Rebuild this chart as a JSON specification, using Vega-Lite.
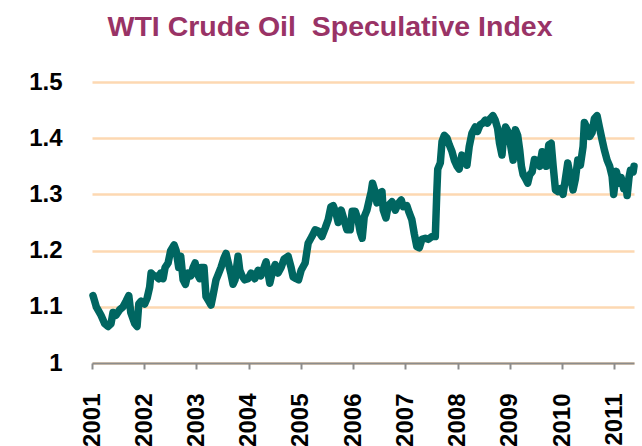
{
  "$schema": "https://vega.github.io/schema/vega-lite/v6.json",
  "width": 542,
  "height": 281,
  "autosize": {"type": "none"},
  "padding": {"left": 92, "top": 82, "right": 8, "bottom": 83},
  "background": "white",
  "title": {
    "text": "WTI Crude Oil\u00a0 Speculative Index",
    "font": "Liberation Sans",
    "fontSize": 28.5,
    "fontWeight": "bold",
    "color": "#993366",
    "anchor": "middle",
    "frame": "group",
    "dx": -33,
    "baseline": "alphabetic",
    "offset": 6
  },
  "config": {
    "view": {"stroke": null},
    "axis": {"labelFont": "Liberation Sans", "labelFontWeight": "bold", "labelColor": "#000000", "labelFontSize": 24}
  },
  "data": {
    "values": [
      {"date": "2001-01-08", "index": 1.12},
      {"date": "2001-01-31", "index": 1.10},
      {"date": "2001-03-05", "index": 1.085},
      {"date": "2001-03-31", "index": 1.07},
      {"date": "2001-04-23", "index": 1.065},
      {"date": "2001-05-14", "index": 1.07},
      {"date": "2001-05-28", "index": 1.09},
      {"date": "2001-06-18", "index": 1.085},
      {"date": "2001-07-14", "index": 1.095},
      {"date": "2001-08-06", "index": 1.10},
      {"date": "2001-08-27", "index": 1.11},
      {"date": "2001-09-15", "index": 1.12},
      {"date": "2001-09-29", "index": 1.09},
      {"date": "2001-10-27", "index": 1.07},
      {"date": "2001-11-12", "index": 1.065},
      {"date": "2001-11-24", "index": 1.105},
      {"date": "2001-12-10", "index": 1.11},
      {"date": "2002-01-04", "index": 1.105},
      {"date": "2002-01-21", "index": 1.115},
      {"date": "2002-02-08", "index": 1.135},
      {"date": "2002-02-18", "index": 1.16},
      {"date": "2002-03-11", "index": 1.155},
      {"date": "2002-03-25", "index": 1.155},
      {"date": "2002-04-12", "index": 1.15},
      {"date": "2002-04-26", "index": 1.16},
      {"date": "2002-05-13", "index": 1.15},
      {"date": "2002-05-27", "index": 1.17},
      {"date": "2002-06-17", "index": 1.178},
      {"date": "2002-07-05", "index": 1.20},
      {"date": "2002-07-29", "index": 1.21},
      {"date": "2002-08-12", "index": 1.20},
      {"date": "2002-08-30", "index": 1.17},
      {"date": "2002-09-13", "index": 1.19},
      {"date": "2002-09-30", "index": 1.148},
      {"date": "2002-10-16", "index": 1.14},
      {"date": "2002-11-04", "index": 1.16},
      {"date": "2002-11-23", "index": 1.155},
      {"date": "2002-12-09", "index": 1.17},
      {"date": "2002-12-23", "index": 1.178},
      {"date": "2003-01-05", "index": 1.16},
      {"date": "2003-01-24", "index": 1.15},
      {"date": "2003-02-02", "index": 1.17},
      {"date": "2003-02-23", "index": 1.17},
      {"date": "2003-03-09", "index": 1.118},
      {"date": "2003-03-28", "index": 1.11},
      {"date": "2003-04-13", "index": 1.103},
      {"date": "2003-04-27", "index": 1.12},
      {"date": "2003-05-18", "index": 1.148},
      {"date": "2003-06-06", "index": 1.16},
      {"date": "2003-06-22", "index": 1.17},
      {"date": "2003-07-13", "index": 1.187},
      {"date": "2003-07-27", "index": 1.195},
      {"date": "2003-08-10", "index": 1.18},
      {"date": "2003-08-29", "index": 1.16},
      {"date": "2003-09-14", "index": 1.14},
      {"date": "2003-09-28", "index": 1.148},
      {"date": "2003-10-19", "index": 1.19},
      {"date": "2003-10-31", "index": 1.165},
      {"date": "2003-11-16", "index": 1.155},
      {"date": "2003-12-05", "index": 1.148},
      {"date": "2003-12-28", "index": 1.15},
      {"date": "2004-01-18", "index": 1.16},
      {"date": "2004-02-13", "index": 1.15},
      {"date": "2004-03-07", "index": 1.165},
      {"date": "2004-03-26", "index": 1.155},
      {"date": "2004-04-11", "index": 1.165},
      {"date": "2004-05-02", "index": 1.18},
      {"date": "2004-05-28", "index": 1.142},
      {"date": "2004-06-13", "index": 1.16},
      {"date": "2004-07-04", "index": 1.175},
      {"date": "2004-07-25", "index": 1.16},
      {"date": "2004-08-15", "index": 1.17},
      {"date": "2004-09-05", "index": 1.185},
      {"date": "2004-10-03", "index": 1.19},
      {"date": "2004-10-24", "index": 1.17},
      {"date": "2004-11-07", "index": 1.153},
      {"date": "2004-11-28", "index": 1.15},
      {"date": "2004-12-15", "index": 1.148},
      {"date": "2005-01-02", "index": 1.165},
      {"date": "2005-01-30", "index": 1.178},
      {"date": "2005-02-20", "index": 1.213},
      {"date": "2005-03-18", "index": 1.225},
      {"date": "2005-04-10", "index": 1.237},
      {"date": "2005-05-01", "index": 1.235},
      {"date": "2005-05-27", "index": 1.225},
      {"date": "2005-06-19", "index": 1.24},
      {"date": "2005-07-10", "index": 1.255},
      {"date": "2005-07-29", "index": 1.278},
      {"date": "2005-08-14", "index": 1.28},
      {"date": "2005-09-02", "index": 1.267},
      {"date": "2005-09-18", "index": 1.25},
      {"date": "2005-10-09", "index": 1.272},
      {"date": "2005-10-23", "index": 1.26},
      {"date": "2005-11-18", "index": 1.237},
      {"date": "2005-12-11", "index": 1.237},
      {"date": "2005-12-25", "index": 1.27},
      {"date": "2006-01-15", "index": 1.27},
      {"date": "2006-02-03", "index": 1.255},
      {"date": "2006-02-19", "index": 1.233},
      {"date": "2006-03-05", "index": 1.222},
      {"date": "2006-03-19", "index": 1.26},
      {"date": "2006-04-07", "index": 1.272},
      {"date": "2006-04-23", "index": 1.29},
      {"date": "2006-05-07", "index": 1.305},
      {"date": "2006-05-16", "index": 1.32},
      {"date": "2006-05-28", "index": 1.31},
      {"date": "2006-06-16", "index": 1.285},
      {"date": "2006-07-02", "index": 1.302},
      {"date": "2006-07-21", "index": 1.305},
      {"date": "2006-07-30", "index": 1.272},
      {"date": "2006-08-18", "index": 1.258},
      {"date": "2006-09-03", "index": 1.28},
      {"date": "2006-09-29", "index": 1.287},
      {"date": "2006-10-22", "index": 1.272},
      {"date": "2006-11-10", "index": 1.283},
      {"date": "2006-12-03", "index": 1.29},
      {"date": "2006-12-17", "index": 1.278},
      {"date": "2007-01-11", "index": 1.28},
      {"date": "2007-01-28", "index": 1.267},
      {"date": "2007-02-15", "index": 1.255},
      {"date": "2007-03-04", "index": 1.23},
      {"date": "2007-03-22", "index": 1.207},
      {"date": "2007-04-08", "index": 1.205},
      {"date": "2007-04-26", "index": 1.22},
      {"date": "2007-05-20", "index": 1.222},
      {"date": "2007-06-10", "index": 1.22},
      {"date": "2007-07-06", "index": 1.225},
      {"date": "2007-07-29", "index": 1.225},
      {"date": "2007-08-08", "index": 1.30},
      {"date": "2007-08-15", "index": 1.345},
      {"date": "2007-09-02", "index": 1.356},
      {"date": "2007-09-14", "index": 1.394},
      {"date": "2007-09-30", "index": 1.405},
      {"date": "2007-10-19", "index": 1.40},
      {"date": "2007-11-04", "index": 1.388},
      {"date": "2007-11-23", "index": 1.376},
      {"date": "2007-12-09", "index": 1.361},
      {"date": "2007-12-28", "index": 1.35},
      {"date": "2008-01-12", "index": 1.345},
      {"date": "2008-01-31", "index": 1.37},
      {"date": "2008-02-16", "index": 1.365},
      {"date": "2008-03-06", "index": 1.352},
      {"date": "2008-03-22", "index": 1.385},
      {"date": "2008-04-10", "index": 1.409},
      {"date": "2008-05-03", "index": 1.42},
      {"date": "2008-05-19", "index": 1.412},
      {"date": "2008-06-07", "index": 1.424},
      {"date": "2008-06-26", "index": 1.427},
      {"date": "2008-07-12", "index": 1.432},
      {"date": "2008-07-28", "index": 1.427},
      {"date": "2008-08-16", "index": 1.435},
      {"date": "2008-09-04", "index": 1.44},
      {"date": "2008-09-20", "index": 1.432},
      {"date": "2008-10-06", "index": 1.418},
      {"date": "2008-10-20", "index": 1.391},
      {"date": "2008-11-06", "index": 1.37},
      {"date": "2008-11-17", "index": 1.403},
      {"date": "2008-12-01", "index": 1.42},
      {"date": "2008-12-22", "index": 1.41},
      {"date": "2009-01-09", "index": 1.382},
      {"date": "2009-01-23", "index": 1.361},
      {"date": "2009-02-08", "index": 1.415},
      {"date": "2009-02-24", "index": 1.405},
      {"date": "2009-03-10", "index": 1.379},
      {"date": "2009-03-22", "index": 1.35},
      {"date": "2009-04-03", "index": 1.335},
      {"date": "2009-04-19", "index": 1.328},
      {"date": "2009-05-05", "index": 1.32},
      {"date": "2009-05-19", "index": 1.335},
      {"date": "2009-06-05", "index": 1.34},
      {"date": "2009-06-21", "index": 1.362},
      {"date": "2009-07-10", "index": 1.36},
      {"date": "2009-07-28", "index": 1.35},
      {"date": "2009-08-14", "index": 1.376},
      {"date": "2009-08-30", "index": 1.372},
      {"date": "2009-09-13", "index": 1.35},
      {"date": "2009-09-29", "index": 1.388},
      {"date": "2009-10-16", "index": 1.391},
      {"date": "2009-10-30", "index": 1.35},
      {"date": "2009-11-15", "index": 1.308},
      {"date": "2009-12-01", "index": 1.305},
      {"date": "2009-12-20", "index": 1.31},
      {"date": "2010-01-07", "index": 1.30},
      {"date": "2010-01-23", "index": 1.327},
      {"date": "2010-02-09", "index": 1.356},
      {"date": "2010-02-27", "index": 1.332},
      {"date": "2010-03-18", "index": 1.308},
      {"date": "2010-04-03", "index": 1.327},
      {"date": "2010-04-20", "index": 1.361},
      {"date": "2010-05-08", "index": 1.352},
      {"date": "2010-05-27", "index": 1.385},
      {"date": "2010-06-05", "index": 1.428},
      {"date": "2010-06-24", "index": 1.418},
      {"date": "2010-07-12", "index": 1.403},
      {"date": "2010-07-29", "index": 1.41},
      {"date": "2010-08-14", "index": 1.435},
      {"date": "2010-09-02", "index": 1.44},
      {"date": "2010-09-18", "index": 1.42},
      {"date": "2010-10-07", "index": 1.397},
      {"date": "2010-10-23", "index": 1.379},
      {"date": "2010-11-11", "index": 1.361},
      {"date": "2010-11-29", "index": 1.35},
      {"date": "2010-12-16", "index": 1.332},
      {"date": "2010-12-27", "index": 1.30},
      {"date": "2011-01-15", "index": 1.341},
      {"date": "2011-01-31", "index": 1.32},
      {"date": "2011-02-17", "index": 1.33},
      {"date": "2011-03-07", "index": 1.31},
      {"date": "2011-03-19", "index": 1.323},
      {"date": "2011-03-31", "index": 1.298},
      {"date": "2011-04-13", "index": 1.33},
      {"date": "2011-04-23", "index": 1.343},
      {"date": "2011-05-12", "index": 1.34},
      {"date": "2011-05-18", "index": 1.35}
    ]
  },
  "mark": {"type": "line", "color": "#006661", "strokeWidth": 7.5, "strokeJoin": "round", "strokeCap": "round", "clip": false},
  "encoding": {
    "x": {
      "field": "date",
      "type": "temporal",
      "scale": {"domain": [{"year": 2001, "month": 1, "date": 1}, {"year": 2011, "month": 5, "date": 18}]},
      "axis": {
        "title": null,
        "format": "%Y",
        "values": [
          {"year": 2001, "month": 1, "date": 1}, {"year": 2002, "month": 1, "date": 1},
          {"year": 2003, "month": 1, "date": 1}, {"year": 2004, "month": 1, "date": 1},
          {"year": 2005, "month": 1, "date": 1}, {"year": 2006, "month": 1, "date": 1},
          {"year": 2007, "month": 1, "date": 1}, {"year": 2008, "month": 1, "date": 1},
          {"year": 2009, "month": 1, "date": 1}, {"year": 2010, "month": 1, "date": 1},
          {"year": 2011, "month": 1, "date": 1}
        ],
        "labelAngle": 270,
        "labelPadding": 24,
        "labelOverlap": false,
        "labelFlush": false,
        "grid": false,
        "domainColor": "#8c8c8c",
        "domainWidth": 2,
        "tickColor": "#8c8c8c",
        "tickWidth": 2,
        "tickSize": 6,
        "zindex": 1
      }
    },
    "y": {
      "field": "index",
      "type": "quantitative",
      "scale": {"domain": [1, 1.5], "nice": false, "zero": false},
      "axis": {
        "title": null,
        "values": [1, 1.1, 1.2, 1.3, 1.4, 1.5],
        "format": ".1~f",
        "domain": false,
        "ticks": false,
        "tickSize": 0,
        "labelPadding": 30,
        "gridColor": "#fdd8b2",
        "gridWidth": 2.5,
        "gridOpacity": 1
      }
    }
  }
}
